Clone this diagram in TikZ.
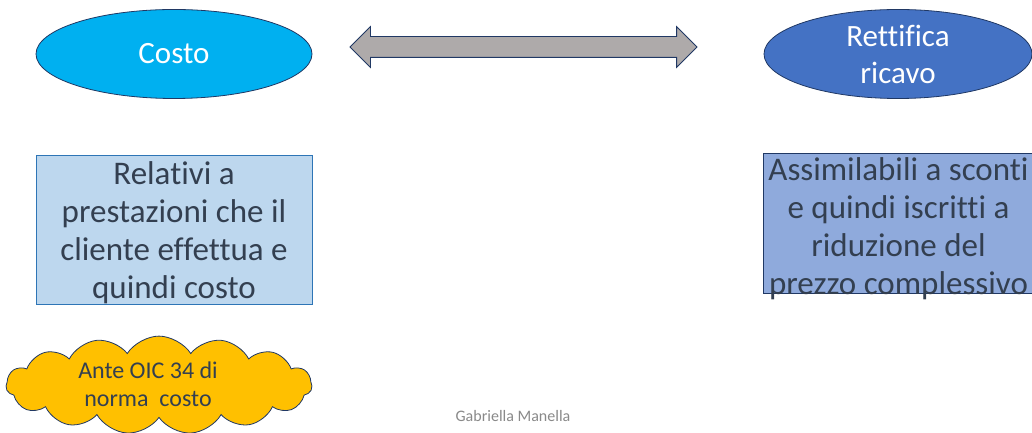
\documentclass[tikz,border=0pt]{standalone}
\usepackage{fontspec}
\setmainfont{Carlito}[Ligatures={NoCommon}]
\usepackage{tikz}
\usetikzlibrary{shapes,arrows,positioning}
\definecolor{cyan}{RGB}{0, 176, 240}
\definecolor{dblue}{RGB}{68, 114, 196}
\definecolor{navy}{RGB}{32, 56, 100}
\definecolor{lblue}{RGB}{189, 215, 238}
\definecolor{mblue}{RGB}{143, 170, 220}
\definecolor{bordo}{RGB}{46, 117, 182}
\definecolor{grigio}{RGB}{174, 170, 170}
\definecolor{giallo}{RGB}{255, 192, 0}
\definecolor{testo}{RGB}{51, 63, 80}
\definecolor{piede}{RGB}{137, 137, 137}
\tikzstyle{voce} = [ellipse, draw=navy, line width=0.8pt, text=white, align=center, inner sep=0pt, minimum width=276pt, minimum height=89pt, font=\fontsize{31}{37}\selectfont]
\tikzstyle{box} = [rectangle, line width=0.8pt, inner sep=0pt]
\tikzstyle{boxtextonly} = [draw=none, fill=none, text=testo, align=center, inner sep=0pt, font=\fontsize{33}{38}\selectfont]
\tikzstyle{nota} = [cloud, cloud puffs=15, cloud puff arc=115, aspect=3.2, draw=navy, line width=0.8pt, fill=giallo, inner sep=0pt, minimum width=306pt, minimum height=98pt]
\tikzstyle{notatextonly} = [draw=none, fill=none, text=testo, align=center, inner sep=0pt, font=\fontsize{24}{28}\selectfont]
\tikzstyle{textonly} = [draw=none, fill=none, text centered, font=\fontsize{16}{19}\selectfont]

\begin{document}
\begin{tikzpicture}[x=1pt, y=1pt]
\useasboundingbox (0,0) rectangle (1032,433);
\clip (0,0) rectangle (1032,433);

% ellipses ==============================
\node[voce, fill=cyan] (costo) at (174,379) {Costo};
\node[voce, fill=dblue, minimum width=268pt] (rettifica) at (898,379) {Rettifica\\ ricavo};

% double arrow between the two
\node[double arrow, draw=navy, line width=0.8pt, fill=grigio, inner sep=0pt, inner ysep=10pt, minimum height=347pt, double arrow head extend=10pt] (freccia) at (523.5,386) {};

% boxes ================================
\node[box, draw=bordo, fill=lblue, minimum width=276pt, minimum height=149pt, below=56pt of costo] (relativi) {};
\node[box, draw=navy, fill=mblue, minimum width=271pt, minimum height=140pt, below=54pt of rettifica, xshift=0.5pt] (assimilabili) {};

% box texts
\node[boxtextonly] (relativitxt) at ([yshift=-3pt]relativi.center) {Relativi a\\ prestazioni che il\\ cliente effettua e\\ quindi costo};
\node[boxtextonly] (assimilabilitxt) at ([yshift=-5pt]assimilabili.center) {Assimilabili a sconti\\ e quindi iscritti a\\ riduzione del\\ prezzo complessivo};

% cloud
\node[nota, below=31pt of relativi, xshift=-15pt] (ante) {};
\node[notatextonly] (antetxt) at ([xshift=-11pt, yshift=1pt]ante.center) {Ante OIC 34 di\\ norma\ \ costo};

% footer
\node[textonly, text=piede, anchor=base] (autore) at (513,11) {Gabriella Manella};

\end{tikzpicture}
\end{document}
